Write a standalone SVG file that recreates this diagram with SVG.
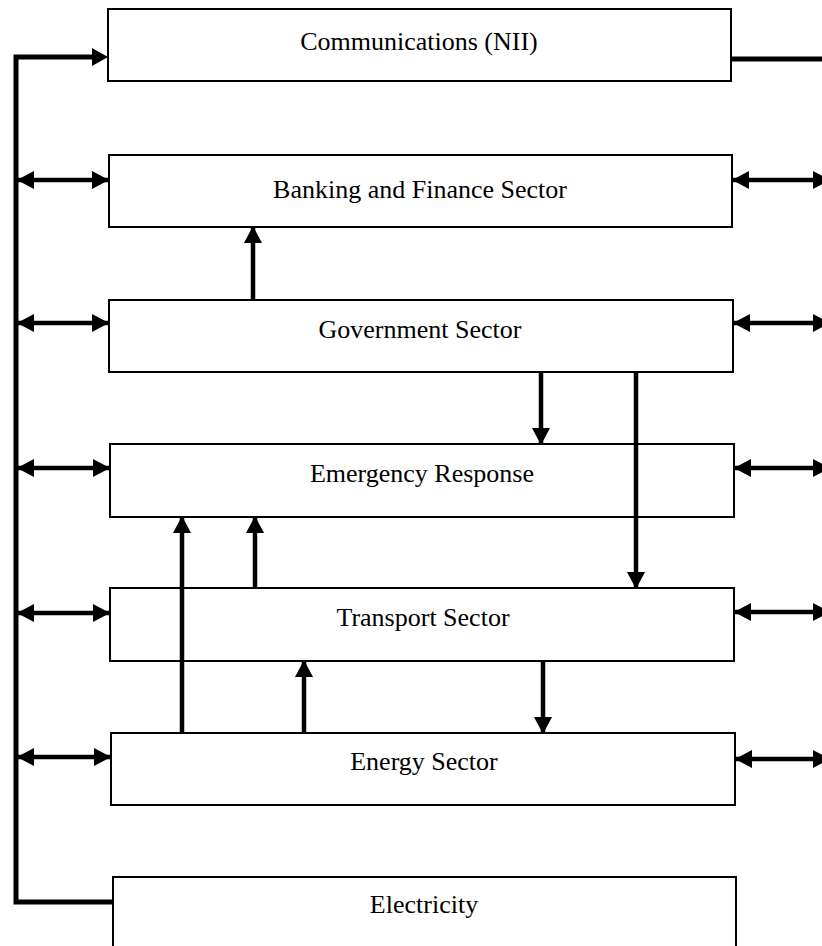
<svg xmlns="http://www.w3.org/2000/svg" width="822" height="946" viewBox="0 0 822 946">
<style>
.box{fill:#fff;stroke:#000;stroke-width:2}
.lbl{font-family:"Liberation Serif","Times New Roman",serif;font-size:26px;fill:#000;text-anchor:middle}
.bus{fill:none;stroke:#000;stroke-width:5}
.con{fill:none;stroke:#000;stroke-width:4.5}
.end{marker-end:url(#ah)}
.both{marker-start:url(#ah);marker-end:url(#ah)}
</style>
<defs>
<marker id="ah" markerUnits="userSpaceOnUse" markerWidth="17" markerHeight="18" refX="16" refY="9" orient="auto-start-reverse" viewBox="0 0 17 18">
<path d="M0,0 L17,9 L0,18 z" fill="#000"/>
</marker>
</defs>
<rect width="822" height="946" fill="#fff"/>
<g id="n1"><rect class="box" x="108" y="9" width="623" height="72"/><text class="lbl" x="419" y="50">Communications (NII)</text></g>
<g id="n2"><rect class="box" x="109" y="155" width="623" height="72"/><text class="lbl" x="420" y="198">Banking and Finance Sector</text></g>
<g id="n3"><rect class="box" x="109" y="300" width="624" height="72"/><text class="lbl" x="420" y="338">Government Sector</text></g>
<g id="n4"><rect class="box" x="110" y="444" width="624" height="73"/><text class="lbl" x="422" y="482">Emergency Response</text></g>
<g id="n5"><rect class="box" x="110" y="588" width="624" height="73"/><text class="lbl" x="423" y="626">Transport Sector</text></g>
<g id="n6"><rect class="box" x="111" y="733" width="624" height="72"/><text class="lbl" x="424" y="770">Energy Sector</text></g>
<g id="n7"><rect class="box" x="113" y="877" width="623" height="80"/><text class="lbl" x="424" y="913">Electricity</text></g>
<g id="connectors">
<polyline class="bus" points="113,902 16,902 16,57 92,57"/>
<path d="M92,48 L108,57 L92,66 z" fill="#000"/>
<line class="bus" x1="731" y1="59" x2="822" y2="59"/>
<line class="con both" x1="18" y1="180" x2="108" y2="180"/>
<line class="con both" x1="18" y1="323" x2="108" y2="323"/>
<line class="con both" x1="18" y1="468" x2="109" y2="468"/>
<line class="con both" x1="18" y1="613" x2="109" y2="613"/>
<line class="con both" x1="18" y1="757" x2="110" y2="757"/>
<line class="con both" x1="733" y1="180" x2="829" y2="180"/>
<line class="con both" x1="734" y1="323" x2="829" y2="323"/>
<line class="con both" x1="735" y1="468" x2="829" y2="468"/>
<line class="con both" x1="735" y1="612" x2="829" y2="612"/>
<line class="con both" x1="736" y1="759" x2="829" y2="759"/>
<line class="con end" x1="253" y1="300" x2="253" y2="227"/>
<line class="con end" x1="541" y1="372" x2="541" y2="444"/>
<line class="con end" x1="636" y1="372" x2="636" y2="588"/>
<line class="con end" x1="255" y1="588" x2="255" y2="517"/>
<line class="con end" x1="182" y1="733" x2="182" y2="517"/>
<line class="con end" x1="304" y1="733" x2="304" y2="661"/>
<line class="con end" x1="543" y1="661" x2="543" y2="733"/>
</g>
</svg>
